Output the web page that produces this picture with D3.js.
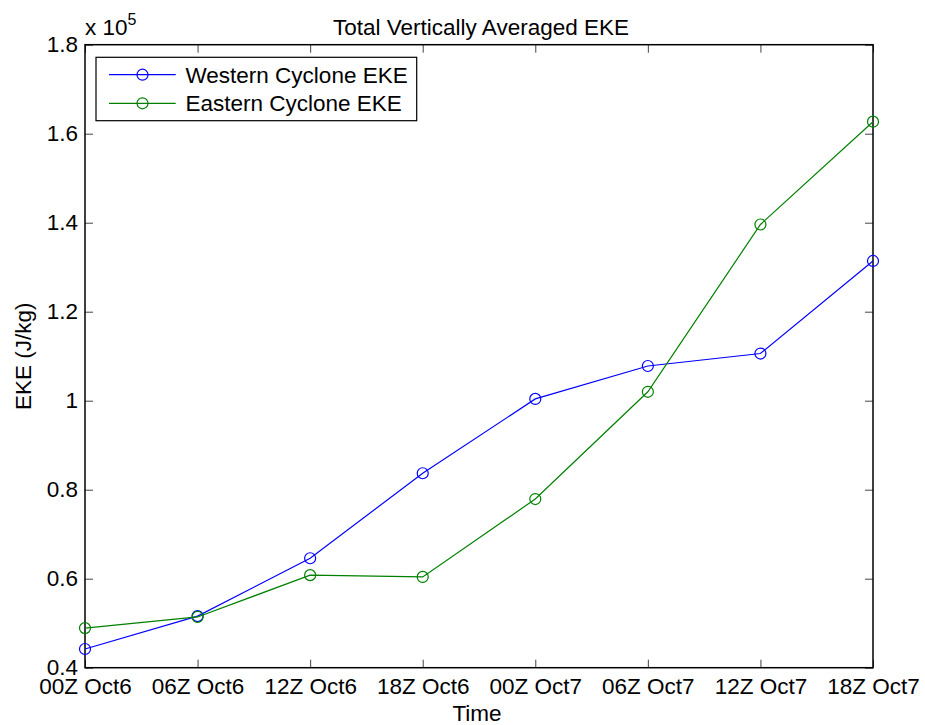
<!DOCTYPE html>
<html>
<head>
<meta charset="utf-8">
<script src="https://cdn.jsdelivr.net/npm/d3@7/dist/d3.min.js"></script>
<style>
  html, body { margin: 0; padding: 0; background: #fff; }
  svg { display: block; font-family: "Liberation Sans", Arial, Helvetica, sans-serif; }
</style>
</head>
<body>
<svg id="chart" width="925" height="725"></svg>
<script>
// Time steps (6-hourly analyses)
const times = ["00Z Oct6", "06Z Oct6", "12Z Oct6", "18Z Oct6", "00Z Oct7", "06Z Oct7", "12Z Oct7", "18Z Oct7"];

// Vertically averaged eddy kinetic energy (J/kg)
const westernEKE = [44200, 51600, 64600, 83700, 100400, 107800, 110600, 131400];
const easternEKE = [48900, 51400, 60800, 60400, 77900, 102000, 139600, 162700];

// Y axis ticks (J/kg)
const yTicks = [40000, 60000, 80000, 100000, 120000, 140000, 160000, 180000];

const seriesNames = ["Western Cyclone EKE", "Eastern Cyclone EKE"];
const seriesColors = ["#0000ff", "#008000"];

const svg = d3.select("#chart");
const margin = { left: 85, right: 52, top: 44.7, bottom: 57.3 };
const W = 925, H = 725;
const x0 = margin.left, x1 = W - margin.right;
const y0 = H - margin.bottom, y1 = margin.top;
const fontSize = 22.5;

const x = d3.scalePoint().domain(times).range([x0, x1]).padding(0);
const y = d3.scaleLinear().domain([40000, 180000]).range([y0, y1]);

const fmt = d => String(+(d / 1e5).toFixed(1));

// Axis box with inward ticks on all sides
const tickLen = 8;
const axes = svg.append("g");

const axBottom = axes.append("g").attr("transform", `translate(0,${y0})`)
  .call(d3.axisBottom(x).tickSize(-tickLen).tickPadding(12));
const axTop = axes.append("g").attr("transform", `translate(0,${y1})`)
  .call(d3.axisTop(x).tickSize(-tickLen).tickFormat(""));
const axLeft = axes.append("g").attr("transform", `translate(${x0},0)`)
  .call(d3.axisLeft(y).tickValues(yTicks).tickSize(-tickLen).tickPadding(7).tickFormat(fmt));
const axRight = axes.append("g").attr("transform", `translate(${x1},0)`)
  .call(d3.axisRight(y).tickValues(yTicks).tickSize(-tickLen).tickFormat(""));

[axBottom, axTop, axLeft, axRight].forEach(g => {
  g.select(".domain").remove();
  g.selectAll(".tick line").attr("stroke", "#444").attr("stroke-width", 1);
  g.selectAll(".tick text").attr("fill", "#000").style("font-size", fontSize + "px")
    .style("font-family", '"Liberation Sans", Arial, Helvetica, sans-serif');
});
axBottom.selectAll(".tick text").attr("dy", "0.71em").attr("y", 10);

axes.append("rect")
  .attr("x", x0).attr("y", y1).attr("width", x1 - x0).attr("height", y0 - y1)
  .attr("fill", "none").attr("stroke", "#000").attr("stroke-width", 1.5);

// Exponent label
const expo = svg.append("text").attr("x", x0).attr("y", 35)
  .style("font-size", fontSize + "px").attr("fill", "#000");
expo.append("tspan").text("x 10");
expo.append("tspan").attr("dy", -10).style("font-size", "16px").text("5");

// Title and axis labels
svg.append("text").attr("x", (x0 + x1) / 2 + 2).attr("y", 35).attr("text-anchor", "middle")
  .style("font-size", fontSize + "px").attr("fill", "#000").text("Total Vertically Averaged EKE");
svg.append("text").attr("x", (x0 + x1) / 2 - 2).attr("y", 721).attr("text-anchor", "middle")
  .style("font-size", fontSize + "px").attr("fill", "#000").text("Time");
svg.append("text")
  .attr("transform", `translate(31,${(y0 + y1) / 2}) rotate(-90)`)
  .attr("text-anchor", "middle")
  .style("font-size", fontSize + "px").attr("fill", "#000").text("EKE (J/kg)");

// Series lines with circle markers
const line = d3.line().x((d, i) => x(times[i])).y(d => y(d));
[westernEKE, easternEKE].forEach((vals, k) => {
  const g = svg.append("g");
  g.append("path").datum(vals).attr("d", line)
    .attr("fill", "none").attr("stroke", seriesColors[k]).attr("stroke-width", 1.2);
  g.selectAll("circle").data(vals).join("circle")
    .attr("cx", (d, i) => x(times[i])).attr("cy", d => y(d)).attr("r", 5.5)
    .attr("fill", "none").attr("stroke", seriesColors[k]).attr("stroke-width", 1.2);
});

// Legend
const lg = svg.append("g");
lg.append("rect").attr("x", 96).attr("y", 57.3).attr("width", 320.7).attr("height", 63.4)
  .attr("fill", "#fff").attr("stroke", "#000").attr("stroke-width", 1.2);
seriesNames.forEach((name, k) => {
  const cy = 74.7 + k * 28.6;
  lg.append("line").attr("x1", 109).attr("x2", 175.7).attr("y1", cy).attr("y2", cy)
    .attr("stroke", seriesColors[k]).attr("stroke-width", 1.2);
  lg.append("circle").attr("cx", 142.5).attr("cy", cy).attr("r", 5.5)
    .attr("fill", "none").attr("stroke", seriesColors[k]).attr("stroke-width", 1.2);
  lg.append("text").attr("x", 185.5).attr("y", cy).attr("dy", "0.35em")
    .style("font-size", fontSize + "px").attr("fill", "#000").text(name);
});
</script>
</body>
</html>
